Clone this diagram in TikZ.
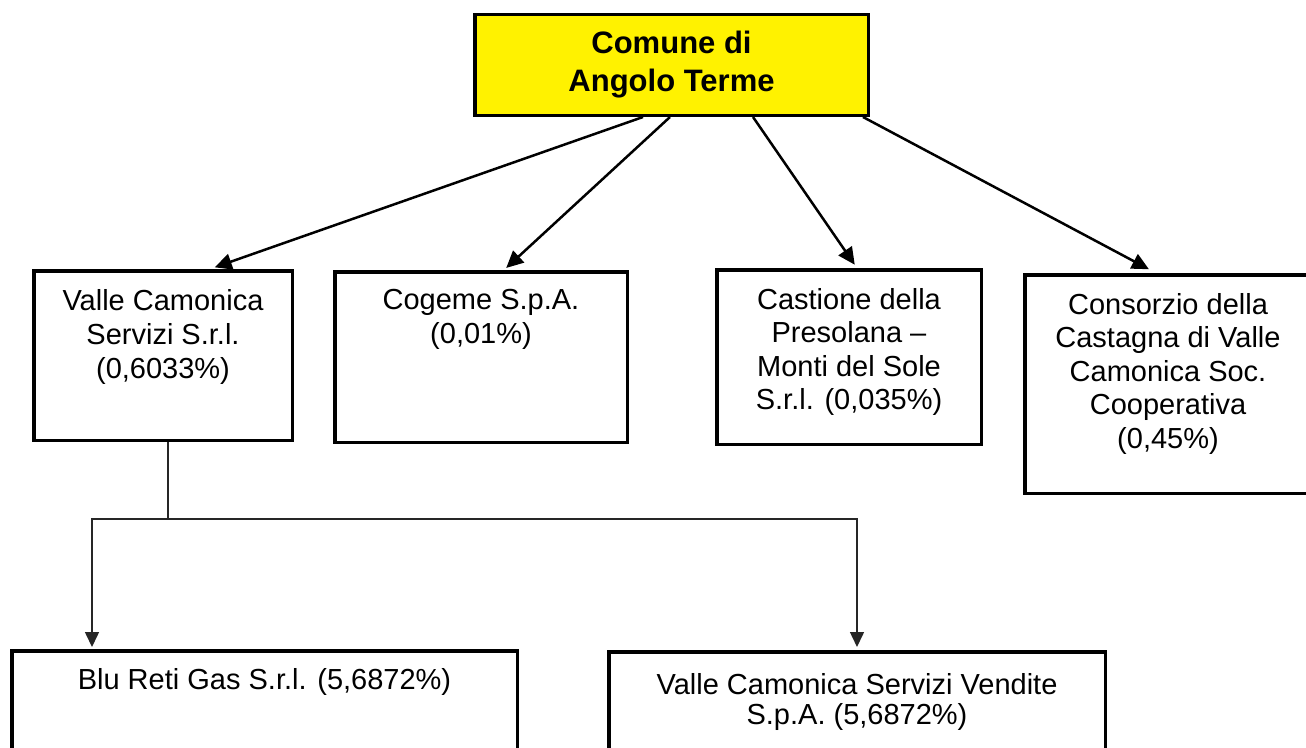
\documentclass[tikz,border=0pt]{standalone}
\usepackage{fontspec}
\setmainfont{Liberation Sans}
\usepackage{tikz}
\usetikzlibrary{arrows.meta,positioning}

\begin{document}
\begin{tikzpicture}[x=1pt,y=-1pt,
  box/.style={draw,line width=3.5pt,inner sep=0pt},
  txt/.style={align=center,inner sep=0pt,font=\fontsize{29}{34}\selectfont},
  arr/.style={line width=2.5pt,-{Triangle[length=17pt,width=16pt]}},
  link/.style={line width=1.5pt,black!85,-{Triangle[length=15pt,width=14pt]}}]
\useasboundingbox (0,0) rectangle (1306,747);
\clip (0,0) rectangle (1306,747);

\node[box,fill=yellow,minimum width=393.5pt,minimum height=100.8pt,align=center,
  font=\bfseries\fontsize{31}{38.3}\selectfont] (comune) at (671.5,64.85) {Comune di\\Angolo Terme};

\node[box,minimum width=258.5pt,minimum height=169.5pt] (vcs) at (163,355.5) {};
\node[box,minimum width=292.5pt,minimum height=170.5pt] (cogeme) at (481,357) {};
\node[box,minimum width=264.5pt,minimum height=174.5pt] (castione) at (849,357) {};
\node[box,minimum width=286.5pt,minimum height=218.5pt] (consorzio) at (1168,384) {};
\node[box,minimum width=505.5pt,minimum height=197.5pt] (blu) at (264.5,749.5) {};
\node[box,minimum width=496.5pt,minimum height=196.5pt] (vcsv) at (857,750) {};

\node[txt,below=20pt of vcs.north] (vcstxt) {Valle Camonica\\Servizi S.r.l.\\(0,6033\%)};
\node[txt,below=19pt of cogeme.north] (cogemetxt) {Cogeme S.p.A.\\(0,01\%)};
\node[txt,font=\fontsize{29}{33.4}\selectfont,below=20pt of castione.north] (castionetxt)
  {Castione della\\Presolana --\\Monti del Sole\\S.r.l. (0,035\%)};
\node[txt,font=\fontsize{29}{33.5}\selectfont,below=20pt of consorzio.north] (consorziotxt)
  {Consorzio della\\Castagna di Valle\\Camonica Soc.\\Cooperativa\\(0,45\%)};
\node[txt,below=19pt of blu.north] (blutxt) {Blu Reti Gas S.r.l. (5,6872\%)};
\node[txt,font=\fontsize{29}{30}\selectfont,below=23pt of vcsv.north] (vcsvtxt)
  {Valle Camonica Servizi Vendite\\S.p.A. (5,6872\%)};

\draw[arr,shorten >=5pt] ([xshift=-28.5pt]comune.south) -- ([xshift=47pt]vcs.north);
\draw[arr,shorten >=3pt] ([xshift=-1.5pt]comune.south) -- ([xshift=23pt]cogeme.north);
\draw[arr,shorten >=4pt] ([xshift=81.5pt]comune.south) -- ([xshift=8pt]castione.north);
\draw[arr,shorten >=8pt] ([xshift=191.5pt]comune.south) -- ([xshift=-12pt]consorzio.north);

\coordinate (split) at (168,519);
\draw[line width=1.2pt,black!85] ([xshift=5pt]vcs.south) -- (split);
\draw[link,shorten >=2pt] (split) -| ([xshift=-172.5pt]blu.north);
\draw[link,shorten >=3pt] (split) -| (vcsv.north);
\end{tikzpicture}
\end{document}
